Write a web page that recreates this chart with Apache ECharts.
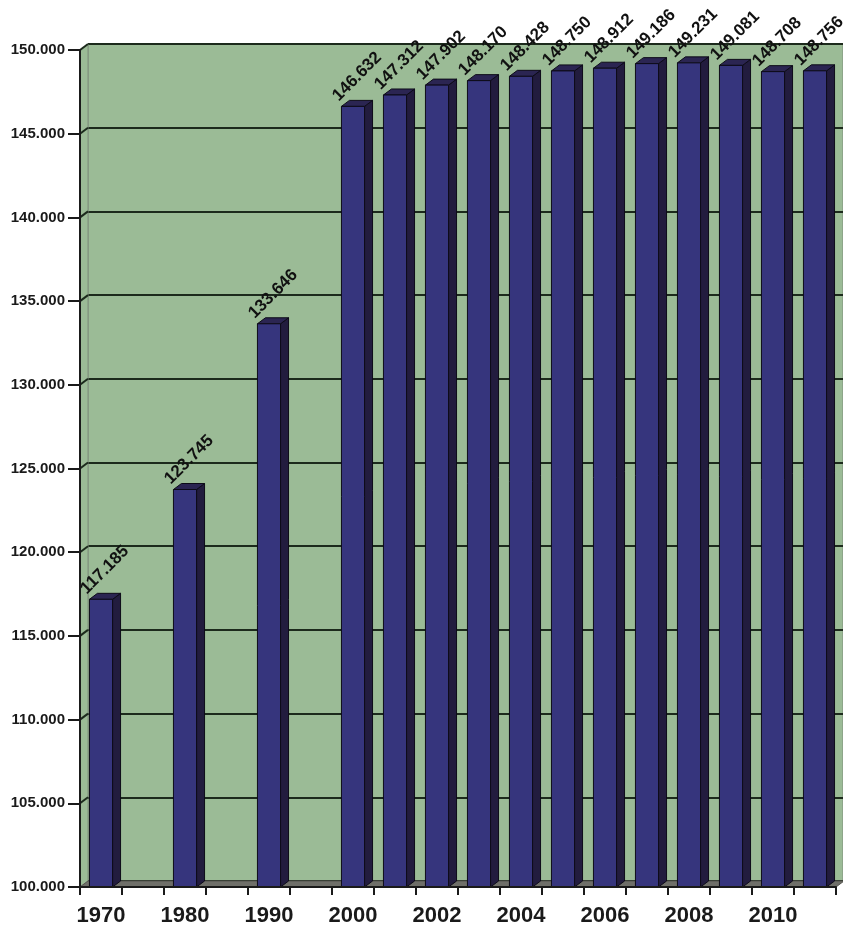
<!DOCTYPE html>
<html>
<head>
<meta charset="utf-8">
<script src="https://cdn.jsdelivr.net/npm/echarts@6/dist/echarts.min.js"></script>
<style>
html,body{margin:0;padding:0;background:#fff;}
#chart{width:843px;height:927px;}
</style>
</head>
<body>
<div id="chart"></div>
<script>
// ---- data ----
const years = ['1970','1980','1990','2000','2001','2002','2003','2004','2005','2006','2007','2008','2009','2010','2011'];
const values = [117185,123745,133646,146632,147312,147902,148170,148428,148750,148912,149186,149231,149081,148708,148756];
const gapAfter = ['1970','1980','1990'];          // an empty slot follows each of these
const xTickLabels = ['1970','1980','1990','2000','2002','2004','2006','2008','2010'];
const yMin = 100000, yMax = 150000, yStep = 5000;

// ---- build category slots ----
const slots = [];
years.forEach(y => { slots.push(y); if (gapAfter.includes(y)) slots.push('gap-' + y); });
const barData = years.map((y, i) => [slots.indexOf(y), values[i]]);
const tickValues = [];
for (let v = yMin; v <= yMax; v += yStep) tickValues.push(v);

function fmt(v) {
  return String(Math.round(v)).replace(/\B(?=(\d{3})+(?!\d))/g, '.');
}

const DX = 8, DY = -6;
const FONT = 'Liberation Sans, Arial, sans-serif';

const chart = echarts.init(document.getElementById('chart'), null, {renderer: 'canvas'});

chart.setOption({
  backgroundColor: '#ffffff',
  animation: false,
  grid: [
    {left: 80, right: 7, top: 50, bottom: 40},
    {left: 88, top: 44, width: 756, height: 837, show: true,
     backgroundColor: '#9bbb96', borderColor: '#7e8f7c', borderWidth: 1}
  ],
  xAxis: [
    {
      type: 'category', gridIndex: 0, data: slots, z: 5,
      axisLine: {show: true, lineStyle: {color: '#1a1a1a', width: 2}},
      axisTick: {show: true, interval: 0, length: 8, lineStyle: {color: '#1a1a1a', width: 2}},
      axisLabel: {
        interval: (i, v) => xTickLabels.includes(v),
        formatter: v => xTickLabels.includes(v) ? v : '',
        color: '#1a1a1a', fontFamily: FONT, fontWeight: 'bold', fontSize: 22, margin: 18
      },
      splitLine: {show: false}
    },
    {
      type: 'category', gridIndex: 1, data: slots, show: false
    }
  ],
  yAxis: [
    {
      type: 'value', gridIndex: 0, min: yMin, max: yMax, interval: yStep, z: 5,
      axisLine: {show: true, lineStyle: {color: '#1a1a1a', width: 2}},
      axisTick: {show: true, length: 12, lineStyle: {color: '#1a1a1a', width: 2}},
      axisLabel: {formatter: v => fmt(v), color: '#1a1a1a', fontFamily: FONT,
                  fontWeight: 'bold', fontSize: 15, margin: 15},
      splitLine: {show: false}
    },
    {
      type: 'value', gridIndex: 1, min: yMin, max: yMax, interval: yStep,
      axisLine: {show: false}, axisTick: {show: false}, axisLabel: {show: false},
      splitLine: {show: true, lineStyle: {color: '#1c2a1c', width: 2}}
    }
  ],
  series: [
    {
      // left wall, floor and slanted wall grid lines
      type: 'custom', xAxisIndex: 0, yAxisIndex: 0, z: 1, silent: true,
      data: tickValues.map(v => [0, v]),
      renderItem: function (params, api) {
        const band = api.size([1, 0])[0];
        const p = api.coord([0, api.value(1)]);
        const xl = p[0] - band / 2;
        const children = [];
        if (params.dataIndex === 0) {
          const top = api.coord([0, yMax])[1];
          const bot = api.coord([0, yMin])[1];
          const xr = api.coord([slots.length - 1, yMin])[0] + band / 2;
          children.push({type: 'polygon', shape: {points: [[xl, top], [xl + DX, top + DY], [xl + DX, bot + DY], [xl, bot]]},
            style: {fill: '#9bbb96', stroke: '#7e8f7c', lineWidth: 1}});
          children.push({type: 'polygon', shape: {points: [[xl, bot], [xl + DX, bot + DY], [xr + DX, bot + DY], [xr, bot]]},
            style: {fill: '#6f6f69', stroke: '#55554f', lineWidth: 1}});
        }
        if (api.value(1) > yMin) {
          children.push({type: 'line', shape: {x1: xl, y1: p[1], x2: xl + DX, y2: p[1] + DY},
            style: {stroke: '#1c2a1c', lineWidth: 2}});
        }
        return {type: 'group', children: children};
      }
    },
    {
      // 3D-looking bars
      type: 'custom', xAxisIndex: 0, yAxisIndex: 0, z: 3,
      data: barData,
      renderItem: function (params, api) {
        const band = api.size([1, 0])[0];
        const topPt = api.coord([api.value(0), api.value(1)]);
        const basePt = api.coord([api.value(0), yMin]);
        const w = band * 0.55;
        const x0 = topPt[0] - w / 2, x1 = topPt[0] + w / 2;
        const yt = topPt[1], yb = basePt[1];
        return {
          type: 'group',
          children: [
            {type: 'polygon', shape: {points: [[x1, yt], [x1 + DX, yt + DY], [x1 + DX, yb + DY], [x1, yb]]},
              style: {fill: '#221c3e', stroke: '#0d0b18', lineWidth: 1}},
            {type: 'polygon', shape: {points: [[x0, yt], [x0 + DX, yt + DY], [x1 + DX, yt + DY], [x1, yt]]},
              style: {fill: '#2b2552', stroke: '#0d0b18', lineWidth: 1}},
            {type: 'rect', shape: {x: x0, y: yt, width: w, height: yb - yt},
              style: {fill: '#36357d', stroke: '#0d0b18', lineWidth: 1}},
            {type: 'text', x: x0, y: yt - 2, rotation: Math.PI / 4,
              style: {text: fmt(api.value(1)), x: 0, y: 0, align: 'left', verticalAlign: 'bottom',
                      font: 'bold 17px ' + FONT, fill: '#111111'}}
          ]
        };
      }
    }
  ]
});
</script>
</body>
</html>
